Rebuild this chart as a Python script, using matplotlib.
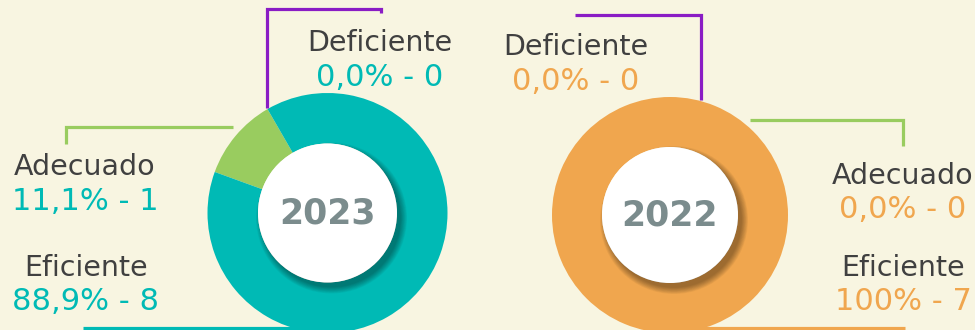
import matplotlib.pyplot as plt
from matplotlib.patches import Circle

# datos
categorias = ["Deficiente", "Adecuado", "Eficiente"]
anios = ["2023", "2022"]
conteo_2023 = [0, 1, 8]
conteo_2022 = [0, 0, 7]
pct_2023 = ["0,0%", "11,1%", "88,9%"]
pct_2022 = ["0,0%", "0,0%", "100%"]

FONDO = "#f8f5e1"
MORADO = "#8a1cc4"
VERDE = "#99cc5f"
TURQUESA = "#00bab5"
NARANJA = "#f0a64e"
GRIS_TXT = "#404040"
GRIS_ANIO = "#7b8c8d"

W, H = 975, 330

fig = plt.figure(figsize=(W / 100, H / 100), dpi=100, facecolor=FONDO)
ax = fig.add_axes([0, 0, 1, 1])


def Y(y):
    # coordenadas medidas desde arriba
    return H - y


def linea(xs, ys, color):
    ax.plot(xs, [Y(v) for v in ys], color=color, lw=2.3, solid_capstyle="butt",
            solid_joinstyle="miter", zorder=1)


def dona(cx, cy, r, r_in, valores, colores, anio, inicio):
    ax.pie(valores, colors=colores, radius=r, center=(cx, Y(cy)),
           startangle=inicio, counterclock=True,
           wedgeprops=dict(width=r - r_in, linewidth=0), frame=True)
    # sombra suave del circulo central
    for k in range(10):
        ax.add_patch(Circle((cx + 4, Y(cy) - 5), r_in + 6 - k * 0.7,
                            color="black", alpha=0.04, lw=0, zorder=3))
    ax.add_patch(Circle((cx, Y(cy)), r_in, color="white", lw=0, zorder=4))
    ax.text(cx, Y(cy), anio, ha="center", va="center", fontsize=25,
            fontweight="bold", color=GRIS_ANIO, zorder=5)


def etiqueta(x, y, cat, valor, color):
    ax.text(x, Y(y), cat, ha="center", va="center", fontsize=20.5, color=GRIS_TXT)
    ax.text(x, Y(y + 34), valor, ha="center", va="center", fontsize=22, color=color)


# 2023
dona(327.5, 213, 120, 69.5, conteo_2023, [MORADO, VERDE, TURQUESA], anios[0], 120)
linea([267, 267, 381, 381], [108, 9, 9, 13], MORADO)
linea([233, 66, 66], [127, 127, 144], VERDE)
linea([83, 330], [327.5, 327.5], TURQUESA)
etiqueta(380, 43, categorias[0], f"{pct_2023[0]} - {conteo_2023[0]}", TURQUESA)
etiqueta(85, 167, categorias[1], f"{pct_2023[1]} - {conteo_2023[1]}", TURQUESA)
etiqueta(86, 268, categorias[2], f"{pct_2023[2]} - {conteo_2023[2]}", TURQUESA)

# 2022
dona(670, 215, 118, 68, conteo_2022, [MORADO, VERDE, NARANJA], anios[1], 75)
linea([575, 701, 701], [15, 15, 100], MORADO)
linea([750, 903, 903], [120, 120, 146], VERDE)
linea([670, 905], [328, 328], NARANJA)
etiqueta(576, 47, categorias[0], f"{pct_2022[0]} - {conteo_2022[0]}", NARANJA)
etiqueta(903, 176, categorias[1], f"{pct_2022[1]} - {conteo_2022[1]}", NARANJA)
etiqueta(903, 268, categorias[2], f"{pct_2022[2]} - {conteo_2022[2]}", NARANJA)

ax.set_xlim(0, W)
ax.set_ylim(0, H)
ax.set_aspect("equal")
ax.axis("off")

fig.savefig("out.png", dpi=100, facecolor=FONDO)
